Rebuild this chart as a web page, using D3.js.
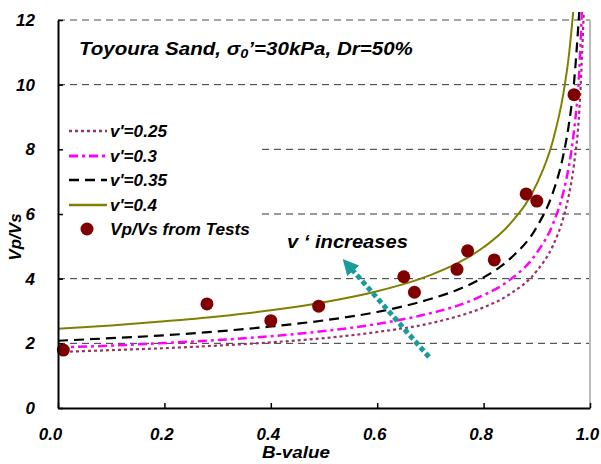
<!DOCTYPE html>
<html>
<head>
<meta charset="utf-8">
<script src="https://cdn.jsdelivr.net/npm/d3@7"></script>
<style>
  body { margin: 0; background: #fff; }
  text { font-family: "Liberation Sans", Arial, sans-serif; font-weight: bold; font-style: italic; }
</style>
</head>
<body>
<svg id="chart" width="601" height="464"></svg>
<script>
// B-value samples for the theoretical curves
const bValues = [0, 0.1, 0.2, 0.3, 0.4, 0.5, 0.6, 0.7, 0.75, 0.8, 0.85, 0.9, 0.93, 0.95, 0.96, 0.97, 0.98, 0.99];

// Vp/Vs for each Poisson's ratio
const vp025 = [1.73, 1.79, 1.85, 1.93, 2.03, 2.16, 2.35, 2.62, 2.83, 3.11, 3.53, 4.24, 5.01, 5.89, 6.56, 7.54, 9.20, 12.96];
const vp030 = [1.87, 1.93, 2.01, 2.10, 2.22, 2.38, 2.60, 2.93, 3.16, 3.49, 3.97, 4.80, 5.68, 6.68, 7.45, 8.58, 10.47, 14.8];
const vp035 = [2.08, 2.16, 2.25, 2.37, 2.52, 2.71, 2.97, 3.37, 3.65, 4.04, 4.62, 5.60, 6.65, 7.83, 8.74, 10.07, 12.30];
const vp040 = [2.45, 2.55, 2.68, 2.83, 3.02, 3.27, 3.61, 4.11, 4.47, 4.97, 5.70, 6.93, 8.25, 9.73, 10.86, 12.53];

// Measured Vp/Vs
const testB  = [0.01, 0.28, 0.40, 0.49, 0.65, 0.67, 0.75, 0.77, 0.82, 0.88, 0.90, 0.97];
const testVp = [1.79, 3.22, 2.70, 3.15, 4.06, 3.58, 4.29, 4.86, 4.58, 6.62, 6.40, 9.69];

const xTicks = [0, 0.2, 0.4, 0.6, 0.8, 1.0];
const yTicks = [0, 2, 4, 6, 8, 10, 12];

const seriesNames = ["v'=0.25", "v'=0.3", "v'=0.35", "v'=0.4"];
const seriesValues = [vp025, vp030, vp035, vp040];
const seriesColors = ["#993366", "#ff00ff", "#000000", "#808000"];
const seriesDash = ["3,3", "9,4,3,4", "10,6", null];
const seriesWidth = [2.2, 2.5, 2.2, 2];

const svg = d3.select("#chart");
const L = 58, R = 590, T = 20, B = 408;
const x = d3.scaleLinear().domain([0, 1]).range([L, R]);
const y = d3.scaleLinear().domain([0, 12]).range([B, T]);

// Place a text at (px,py) and stretch it horizontally to a given width
function wideText(px, py, size, width, anchor) {
  const t = svg.append("text").attr("font-size", size).attr("text-anchor", anchor || "start");
  t.fit = () => {
    const w = t.node().getComputedTextLength();
    t.attr("transform", `translate(${px},${py}) scale(${width / w},1)`);
    return t;
  };
  return t;
}

// gridlines
svg.append("g").selectAll("line")
  .data(yTicks.filter(d => d > 0))
  .join("line")
  .attr("x1", L).attr("x2", R)
  .attr("y1", d => y(d)).attr("y2", d => y(d))
  .attr("stroke", d => d === 12 ? "#888" : "#333")
  .attr("stroke-width", d => d === 12 ? 1.5 : 1)
  .attr("stroke-dasharray", "7,5");

// right frame
svg.append("line").attr("x1", R).attr("x2", R).attr("y1", T).attr("y2", B)
  .attr("stroke", "#bbb").attr("stroke-width", 2);

// legend background hides gridlines behind it
svg.append("rect").attr("x", L + 1).attr("y", 112).attr("width", 200).attr("height", 130).attr("fill", "#fff");

// curves, clipped just above the plot top
svg.append("clipPath").attr("id", "clip")
  .append("rect").attr("x", L).attr("y", T - 8).attr("width", R - L + 2).attr("height", B - T + 8);

const line = d3.line().x(d => x(d[0])).y(d => y(d[1])).curve(d3.curveMonotoneX);
const curves = svg.append("g").attr("clip-path", "url(#clip)");
seriesValues.forEach((vals, i) => {
  curves.append("path")
    .datum(vals.map((v, j) => [bValues[j], v]))
    .attr("d", line)
    .attr("fill", "none")
    .attr("stroke", seriesColors[i])
    .attr("stroke-width", seriesWidth[i])
    .attr("stroke-dasharray", seriesDash[i]);
});

// measured points
svg.append("g").selectAll("circle")
  .data(testB.map((b, i) => [b, testVp[i]]))
  .join("circle")
  .attr("cx", d => x(d[0])).attr("cy", d => y(d[1]))
  .attr("r", 6.5).attr("fill", "#800000");

// axes
const xAxis = svg.append("g").attr("transform", `translate(0,${B})`)
  .call(d3.axisBottom(x).tickValues(xTicks).tickFormat(d3.format(".1f")).tickSizeInner(-5).tickSizeOuter(0).tickPadding(20));
const yAxis = svg.append("g").attr("transform", `translate(${L},0)`)
  .call(d3.axisLeft(y).tickValues(yTicks).tickSizeInner(-5).tickSizeOuter(0).tickPadding(23));
[xAxis, yAxis].forEach(g => {
  g.select(".domain").attr("stroke", "#000").attr("stroke-width", 2);
  g.selectAll(".tick line").attr("stroke", "#000").attr("stroke-width", 1.5);
  g.selectAll(".tick text").attr("font-size", 17).attr("fill", "#000")
    .attr("font-family", "Liberation Sans, Arial, sans-serif").attr("font-weight", "bold").attr("font-style", "italic");
});
xAxis.selectAll(".tick text").attr("dx", d => d === 0 ? -8 : -3);

// axis titles
wideText(296, 458, 17, 68, "middle").text("B-value").fit();
svg.append("text").attr("transform", "translate(21,237) rotate(-90)").attr("text-anchor", "middle")
  .attr("font-size", 17).text("Vp/Vs");

// title
const title = wideText(79, 55, 18.5, 334);
title.append("tspan").text("Toyoura Sand, \u03c3");
title.append("tspan").attr("font-size", 13).attr("dy", 3).text("0");
title.append("tspan").attr("dy", -3).text("\u2019=30kPa, Dr=50%");
title.fit();

// legend
const legY = [131, 156, 180, 205];
const legW = [57, 47, 57, 47];
seriesNames.forEach((name, i) => {
  svg.append("line").attr("x1", 69).attr("x2", 107).attr("y1", legY[i]).attr("y2", legY[i])
    .attr("stroke", seriesColors[i]).attr("stroke-width", seriesWidth[i] + 0.3)
    .attr("stroke-dasharray", seriesDash[i]);
  wideText(110, legY[i] + 6, 16, legW[i]).text(name).fit();
});
svg.append("circle").attr("cx", 87).attr("cy", 229).attr("r", 6.5).attr("fill", "#800000");
wideText(110, 235, 16, 140).text("Vp/Vs from Tests").fit();

// annotation
wideText(287, 248, 18, 121).text("v \u2018 increases").fit();
svg.append("defs").append("marker").attr("id", "head")
  .attr("viewBox", "0 0 10 10").attr("refX", 5).attr("refY", 5)
  .attr("markerWidth", 3.2).attr("markerHeight", 3.2).attr("orient", "auto")
  .append("path").attr("d", "M0,0 L10,5 L0,10 Z").attr("fill", "#1a9c9c");
svg.append("line").attr("x1", 429).attr("y1", 357).attr("x2", 348).attr("y2", 265)
  .attr("stroke", "#1a9c9c").attr("stroke-width", 5).attr("stroke-dasharray", "5,3")
  .attr("marker-end", "url(#head)");
</script>
</body>
</html>
